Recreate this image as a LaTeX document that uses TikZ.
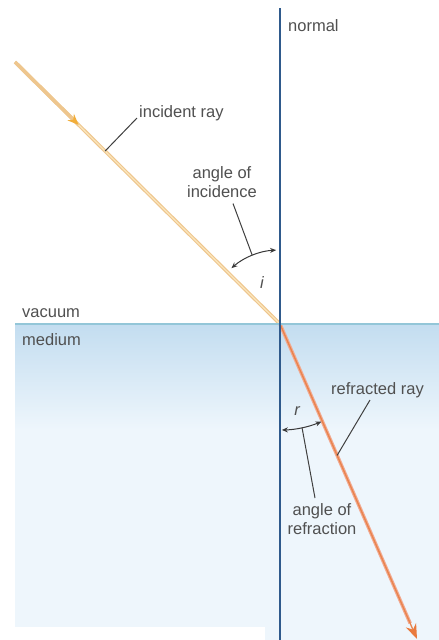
\documentclass[tikz,border=0pt]{standalone}
\usepackage{fontspec}
\setmainfont{Liberation Sans}
\usetikzlibrary{arrows.meta, calc}
\tikzset{>=stealth}
\definecolor{normalblue}{HTML}{2F5A8C}
\definecolor{surfblue}{HTML}{93C6D8}
\definecolor{medtop}{HTML}{C3DDF0}
\definecolor{medlow}{HTML}{EEF6FC}
\definecolor{incray}{HTML}{EEC68E}
\definecolor{inccore}{HTML}{FBE6BC}
\definecolor{incarrow}{HTML}{F2AE3A}
\definecolor{refray}{HTML}{F2A990}
\definecolor{refcore}{HTML}{E9834C}
\definecolor{refarrow}{HTML}{E97A3E}
\definecolor{labelgray}{HTML}{505050}
\tikzset{
	lbl/.style = {inner sep = 0pt, text = labelgray, font = \fontsize{16.5}{19}\selectfont},
	leader/.style = {draw = labelgray!80!black, line width = 1pt},
	anglearc/.style = {draw = labelgray!70!black, line width = 1pt, {Stealth[length=6pt, width=5pt]}-{Stealth[length=6pt, width=5pt]}},
	ray/.style = {line width = 3.5pt}
}

\begin{document}
\begin{tikzpicture}[x = 1pt, y = -1pt]
	\useasboundingbox (0,0) rectangle (439,640);
	\fill[white] (0,0) rectangle (439,640);
	\shade[top color = medtop, bottom color = medlow] (15,324) rectangle (439,430);
	\fill[medlow] (15,430) rectangle (439,640);
	\fill[white] (15,627) rectangle (265,640);
	\coordinate (hit) at (280,324);
	\coordinate (src) at (15,62);
	\coordinate (rend) at (417,639);
	\draw[incray, ray] (src) -- (hit);
	\draw[inccore, line width = 1.2pt] (src) -- (hit);
	\draw[incray, ray, -{Stealth[length=11pt, width=9pt, color=incarrow]}] (src) -- ($(src)!0.24!(hit)$);
	\draw[refray, ray] (hit) -- ($(hit)!0.95!(rend)$);
	\draw[refcore, line width = 1.3pt, -{Stealth[length=15pt, width=11pt, color=refarrow]}] (hit) -- (rend);
	\coordinate (sleft) at (15,324);
	\coordinate (sright) at (439,324);
	\draw[surfblue, line width = 1.5pt] (sleft) -- (sright);
	\coordinate (ntop) at (280,8);
	\coordinate (nbot) at (280,640);
	\draw[normalblue, line width = 2pt] (ntop) -- (nbot);
	\node[lbl, anchor = base west] (nlbl) at (288,31) {normal};
	\node[lbl, anchor = base west] (vaclbl) at (22,317) {vacuum};
	\node[lbl, anchor = base west] (medlbl) at (22,345) {medium};
	\node[lbl, anchor = base west] (inclbl) at (139,117) {incident ray};
	\draw[leader] ($(src)!0.34!(hit)$) -- ($(inclbl.base west)+(-2,1)$);
	\node[lbl, align = center, anchor = north] (ailbl) at (222,166) {angle of\\incidence};
	\draw[anglearc] ($(hit)+(-93:74)$) arc[start angle = -93, end angle = -131, radius = 74];
	\draw[leader] ($(hit)+(-112:74)$) -- ($(ailbl.south)+(11,6)$);
	\node[lbl] (ilbl) at (262,283) {\itshape i};
	\node[lbl, anchor = base west] (rrlbl) at (331,394) {refracted ray};
	\draw[leader] ($(hit)!0.417!(rend)$) -- ($(rrlbl.base west)+(39,6)$);
	\draw[anglearc] ($(hit)+(89:106)$) arc[start angle = 89, end angle = 67, radius = 106];
	\node[lbl] (rlbl) at (297,411) {\itshape r};
	\node[lbl, align = center, anchor = north] (arlbl) at (322,503) {angle of\\refraction};
	\draw[leader] ($(hit)+(78:106)$) -- ($(arlbl.north)+(-7,-5)$);
\end{tikzpicture}
\end{document}
